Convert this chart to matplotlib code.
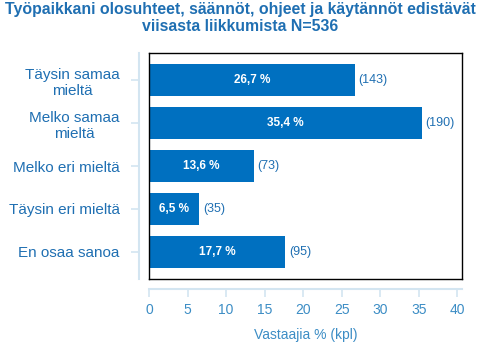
import matplotlib
matplotlib.use('Agg')
import matplotlib.pyplot as plt
import numpy as np

categories = ['Täysin samaa\nmieltä', 'Melko samaa\nmieltä', 'Melko eri mieltä',
              'Täysin eri mieltä', 'En osaa sanoa']
percents = [26.7, 35.4, 13.6, 6.5, 17.7]
counts = [143, 190, 73, 35, 95]
xticks = [0, 5, 10, 15, 20, 25, 30, 35, 40]

bar_color = '#0070C0'
text_color = '#1F6FB2'
tick_color = '#3C8DC5'
spine_color = '#D3E5F1'

plt.rcParams['font.family'] = ['Liberation Sans', 'DejaVu Sans']

fig = plt.figure(figsize=(4.8, 3.51), dpi=100)
pos = [0.3104, 0.205, 0.652, 0.644]
xlim = (0, 40.6)
ylim = (len(categories) - 0.37, -0.63)

ax = fig.add_axes(pos)
y = np.arange(len(categories))
ax.barh(y, percents, height=0.74, color=bar_color)
ax.set_xlim(*xlim)
ax.set_ylim(*ylim)
ax.set_xticks([])
ax.set_yticks([])
for s in ax.spines.values():
    s.set_color('black')
    s.set_linewidth(1.0)

for i, (p, c) in enumerate(zip(percents, counts)):
    ax.text(p / 2, i, f'{p:.1f} %'.replace('.', ','), ha='center', va='center',
            color='white', fontsize=8.5, fontweight='bold')
    ax.text(p + 0.5, i, f'({c})', ha='left', va='center',
            color=text_color, fontsize=9)

# detached axes for the ticks
ax2 = fig.add_axes(pos)
ax2.set_xlim(*xlim)
ax2.set_ylim(*ylim)
ax2.patch.set_visible(False)
ax2.spines['top'].set_visible(False)
ax2.spines['right'].set_visible(False)
ax2.spines['left'].set_position(('outward', 7.2))
ax2.spines['bottom'].set_position(('outward', 7.2))
ax2.spines['left'].set_color(spine_color)
ax2.spines['bottom'].set_color(spine_color)
ax2.spines['left'].set_linewidth(1.5)
ax2.spines['bottom'].set_linewidth(1.5)
ax2.set_xticks(xticks)
ax2.set_yticks(y)
ax2.set_yticklabels(categories, multialignment='center')
ax2.tick_params(axis='x', colors=spine_color, labelcolor=tick_color, labelsize=10,
                length=6, width=1.2, pad=4)
ax2.tick_params(axis='y', colors=spine_color, labelcolor=text_color, labelsize=11,
                length=6, width=1.2, pad=8)
ax2.set_xlabel('Vastaajia % (kpl)', color=tick_color, fontsize=10, labelpad=8)

fig.text(0.5, 0.993, 'Työpaikkani olosuhteet, säännöt, ohjeet ja käytännöt edistävät\nviisasta liikkumista N=536',
         ha='center', va='top', color=text_color, fontsize=11.4, fontweight='bold',
         linespacing=1.15)

fig.savefig('out.png', dpi=100)
